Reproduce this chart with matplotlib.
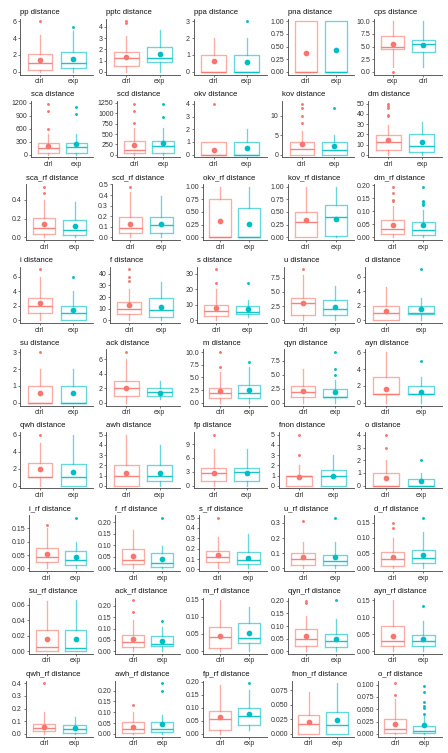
import matplotlib
matplotlib.use("Agg")
import matplotlib.pyplot as plt
from matplotlib.colors import to_rgba

plt.rcParams['font.family'] = ['Liberation Sans', 'DejaVu Sans']

CTRL_COLOR = '#F8766D'
EXP_COLOR = '#00BFC4'

titles = [
    'pp', 'pptc', 'ppa', 'pna', 'cps',
    'sca', 'scd', 'okv', 'kov', 'dm',
    'sca_rf', 'scd_rf', 'okv_rf', 'kov_rf', 'dm_rf',
    'i', 'f', 's', 'u', 'd',
    'su', 'ack', 'm', 'qyn', 'ayn',
    'qwh', 'awh', 'fp', 'fnon', 'o',
    'i_rf', 'f_rf', 's_rf', 'u_rf', 'd_rf',
    'su_rf', 'ack_rf', 'm_rf', 'qyn_rf', 'ayn_rf',
    'qwh_rf', 'awh_rf', 'fp_rf', 'fnon_rf', 'o_rf',
]

# x labels for the two boxes (cps has them swapped)
x_labels = [['ctrl', 'exp']] * 45
x_labels[4] = ['exp', 'ctrl']

y_ticks = [
    ['0', '2', '4', '6'], ['0', '1', '2', '3', '4'], ['0', '1', '2', '3'],
    ['0.00', '0.25', '0.50', '0.75', '1.00'], ['0.0', '2.5', '5.0', '7.5', '10.0'],
    ['0', '300', '600', '900', '1200'], ['0', '250', '500', '750', '1000', '1250'],
    ['0', '1', '2', '3', '4'], ['0', '5', '10'], ['0', '10', '20', '30', '40', '50'],
    ['0.0', '0.2', '0.4'], ['0.0', '0.1', '0.2', '0.3', '0.4', '0.5'],
    ['0.00', '0.25', '0.50', '0.75', '1.00'], ['0.00', '0.25', '0.50', '0.75', '1.00'],
    ['0.00', '0.05', '0.10', '0.15', '0.20'],
    ['0', '2', '4', '6'], ['0', '10', '20', '30', '40'], ['0', '10', '20', '30'],
    ['0.0', '2.5', '5.0', '7.5'], ['0', '2', '4', '6'],
    ['0', '1', '2', '3'], ['0', '2', '4', '6'], ['0.0', '2.5', '5.0', '7.5', '10.0'],
    ['0.0', '2.5', '5.0', '7.5'], ['0', '2', '4', '6'],
    ['0', '2', '4', '6'], ['0', '1', '2', '3', '4', '5'], ['0', '3', '6', '9'],
    ['0', '1', '2', '3', '4', '5'], ['0', '1', '2', '3', '4'],
    ['0.00', '0.05', '0.10', '0.15'], ['0.00', '0.05', '0.10', '0.15', '0.20'],
    ['0.0', '0.1', '0.2', '0.3', '0.4', '0.5'], ['0.0', '0.1', '0.2', '0.3'],
    ['0.00', '0.05', '0.10', '0.15'],
    ['0.00', '0.02', '0.04', '0.06'], ['0.00', '0.05', '0.10', '0.15', '0.20'],
    ['0.00', '0.05', '0.10', '0.15'], ['0.00', '0.05', '0.10', '0.15', '0.20'],
    ['0.00', '0.05', '0.10', '0.15'],
    ['0.0', '0.1', '0.2', '0.3', '0.4'], ['0.00', '0.05', '0.10', '0.15', '0.20'],
    ['0.00', '0.05', '0.10', '0.15', '0.20'], ['0.000', '0.025', '0.050', '0.075'],
    ['0.000', '0.025', '0.050', '0.075', '0.100'],
]

# (whislo, q1, median, q3, whishi, mean)
ctrl_box = [
    (0, 0.2, 1.0, 2.1, 4.3, 1.4), (0, 0.5, 1.25, 1.8, 3.2, 1.35), (0, 0, 0, 1, 2, 0.63),
    (0, 0, 0, 1, 1, 0.37), (1, 4.5, 5.0, 7.1, 10, 5.5),
    (0, 30, 150, 260, 480, 200), (0, 50, 120, 330, 650, 235), (0, 0, 0, 1, 1, 0.37),
    (0, 0, 1.5, 3.2, 6, 2.8), (0, 5, 12, 19, 29, 14),
    (0, 0.04, 0.105, 0.21, 0.40, 0.145), (0, 0.045, 0.09, 0.195, 0.43, 0.13),
    (0, 0, 0, 0.76, 1, 0.32), (0, 0, 0.3, 0.5, 1, 0.35), (0, 0.015, 0.033, 0.065, 0.12, 0.048),
    (0, 1, 2, 3, 6, 2.3), (0, 5.5, 10, 16, 27, 13.5), (0, 3, 6, 10, 20, 8),
    (0, 1, 3, 4, 8, 3.1), (0, 0, 1, 2, 4.5, 1.3),
    (0, 0, 0, 1, 2, 0.6), (0, 1, 2, 3, 6, 2.1), (0, 1, 2, 3, 6, 2.3),
    (0, 1, 2, 3, 6, 2.1), (0, 1, 1, 3, 6, 1.7),
    (0, 1, 1, 2.7, 5, 1.95), (0, 0, 1, 2, 5, 1.2), (0, 1, 2.7, 3.8, 8, 2.8),
    (0, 0, 1, 1, 2, 0.9), (0, 0, 0, 1, 2, 0.6),
    (0, 0.025, 0.041, 0.077, 0.15, 0.053), (0, 0.02, 0.038, 0.082, 0.165, 0.052),
    (0.01, 0.075, 0.125, 0.18, 0.31, 0.135), (0, 0.02, 0.065, 0.1, 0.175, 0.075),
    (0, 0.007, 0.03, 0.055, 0.1, 0.038),
    (0, 0, 0.006, 0.027, 0.065, 0.0155), (0, 0.02, 0.04, 0.07, 0.14, 0.052),
    (0, 0.01, 0.042, 0.07, 0.147, 0.045), (0, 0.02, 0.047, 0.087, 0.14, 0.059),
    (0, 0.015, 0.029, 0.075, 0.15, 0.045),
    (0, 0.02, 0.045, 0.075, 0.17, 0.055), (0, 0.005, 0.022, 0.053, 0.1, 0.033),
    (0, 0.015, 0.057, 0.088, 0.187, 0.066), (0, 0, 0.017, 0.032, 0.072, 0.02),
    (0, 0.002, 0.011, 0.031, 0.07, 0.02),
]

exp_box = [
    (0, 0.5, 1.0, 2.3, 4.8, 1.5), (0, 0.85, 1.25, 2.25, 3.75, 1.6), (0, 0, 0, 1, 2, 0.6),
    (0, 0, 0, 1, 1, 0.44), (1, 3.9, 5.4, 6.3, 10, 5.3),
    (0, 40, 180, 280, 490, 240), (0, 40, 200, 330, 650, 280), (0, 0, 0, 1, 2, 0.5),
    (0, 0, 1.2, 3.2, 5, 2.2), (0, 3, 8.5, 20, 32, 12),
    (0, 0.03, 0.08, 0.19, 0.38, 0.12), (0, 0.045, 0.12, 0.195, 0.39, 0.125),
    (0, 0, 0, 0.58, 1, 0.26), (0, 0.02, 0.4, 0.64, 1, 0.37), (0, 0.01, 0.027, 0.058, 0.105, 0.048),
    (0, 0, 1, 2, 4, 1.45), (0, 3, 9, 19, 33, 11.5), (2, 4, 5, 9, 13, 7),
    (0, 1, 2, 3.5, 6, 2.3), (0, 0.8, 1.05, 2, 3, 1.6),
    (0, 0, 0, 1, 2, 0.6), (0.5, 1, 1.5, 2, 3, 1.4), (0, 1, 2, 3.5, 7, 2.5),
    (0, 1, 1, 2.5, 4, 1.9), (0, 1, 1, 2, 3, 1.35),
    (0, 0, 1, 2.5, 6, 1.6), (0, 0.5, 1, 2, 4, 1.25), (0, 1, 3, 3.8, 8, 2.8),
    (0, 0, 1, 1.5, 3, 0.95), (0, 0, 0, 0.5, 1, 0.35),
    (0, 0.013, 0.032, 0.067, 0.097, 0.044), (0, 0.008, 0.025, 0.065, 0.097, 0.04),
    (0.01, 0.05, 0.09, 0.17, 0.34, 0.11), (0, 0.02, 0.05, 0.09, 0.175, 0.073),
    (0, 0.017, 0.033, 0.06, 0.12, 0.043),
    (0, 0, 0.004, 0.028, 0.066, 0.016), (0, 0.025, 0.03, 0.068, 0.105, 0.045),
    (0, 0.025, 0.039, 0.08, 0.128, 0.052), (0, 0.015, 0.04, 0.067, 0.128, 0.048),
    (0, 0.015, 0.029, 0.048, 0.088, 0.035),
    (0, 0.01, 0.04, 0.067, 0.135, 0.047), (0, 0.008, 0.023, 0.053, 0.088, 0.044),
    (0.015, 0.035, 0.07, 0.1, 0.17, 0.078), (0, 0, 0.016, 0.037, 0.087, 0.024),
    (0, 0.001, 0.006, 0.017, 0.038, 0.019),
]

ctrl_outliers = [
    [6], [4.3, 4.5], [], [], [0],
    [590, 1020, 1180], [770, 1050, 1230], [4], [8, 10, 12, 13], [38, 39, 46, 48, 50],
    [0.47, 0.54], [0.48], [], [], [0.14, 0.145, 0.17, 0.195],
    [7], [34, 37, 44], [24, 33], [9], [],
    [3], [7], [7, 10], [], [],
    [6], [], [11], [3, 5], [3, 4],
    [0.163], [], [0.5], [0.31], [0.132, 0.15],
    [], [0.172, 0.225], [], [0.19, 0.2], [],
    [0.4], [0.132], [], [], [0.079, 0.103],
]

exp_outliers = [
    [5.3], [], [3], [], [],
    [940, 1100], [920, 1220], [], [12], [],
    [], [], [], [], [0.125, 0.13, 0.135, 0.14, 0.195],
    [6], [], [24], [], [7],
    [], [], [8], [5, 6, 9], [5],
    [], [], [], [], [2],
    [0.19], [0.22], [], [0.335], [0.167],
    [], [0.135], [], [0.202], [0.133],
    [], [0.2, 0.235], [0.195], [], [0.041, 0.052, 0.057, 0.065, 0.085, 0.098],
]

# layout in pixels
W, H = 448, 753
label_start = [12.4, 98.5, 186, 271, 357]
col_right = [93, 180, 266.5, 354, 442]
row_step = 82.75
first_title_y = 12


def label_px(s):
    return sum(1.85 if ch == '.' else 3.7 for ch in s)


def draw_group(ax, pos, box, fliers, color):
    lo, q1, med, q3, hi, mean = box
    stats = [dict(whislo=lo, q1=q1, med=med, q3=q3, whishi=hi, mean=mean, fliers=fliers)]
    light = to_rgba(color, 0.6)
    ax.bxp(stats, positions=[pos], widths=0.75, showcaps=False, showmeans=True,
           showfliers=True, patch_artist=False,
           boxprops=dict(color=light, linewidth=0.95),
           whiskerprops=dict(color=light, linewidth=0.95),
           medianprops=dict(color=to_rgba(color, 0.9), linewidth=1.0),
           meanprops=dict(marker='o', markerfacecolor=color, markeredgecolor=color,
                          markersize=3.1),
           flierprops=dict(marker='o', markerfacecolor=color, markeredgecolor='none',
                           markersize=2.1))


fig = plt.figure(figsize=(W / 100, H / 100), dpi=100)

for k, name in enumerate(titles):
    r, c = divmod(k, 5)
    title_y = first_title_y + r * row_step
    top_px = title_y + 6.5
    bottom_px = title_y + 62.5
    lw = max(label_px(t) for t in y_ticks[k])
    left_px = label_start[c] + lw + 4
    right_px = col_right[c]
    ax = fig.add_axes([left_px / W, 1 - bottom_px / H,
                       (right_px - left_px) / W, (bottom_px - top_px) / H])

    draw_group(ax, 1, ctrl_box[k], ctrl_outliers[k], CTRL_COLOR)
    draw_group(ax, 2, exp_box[k], exp_outliers[k], EXP_COLOR)

    vals = list(ctrl_box[k]) + list(exp_box[k]) + ctrl_outliers[k] + exp_outliers[k]
    lo, hi = min(vals), max(vals)
    pad = 0.05 * (hi - lo)
    ax.set_ylim(lo - pad, hi + pad)
    ax.set_xlim(0.4, 2.6)

    ax.set_yticks([float(t) for t in y_ticks[k]])
    ax.set_yticklabels(y_ticks[k])
    ax.set_xticks([1, 2])
    ax.set_xticklabels(x_labels[k])
    ax.tick_params(axis='both', labelsize=5.0, length=1.7, width=0.5, pad=1,
                   colors='#444444', labelcolor='#333333')
    for side in ('top', 'right'):
        ax.spines[side].set_visible(False)
    for side in ('left', 'bottom'):
        ax.spines[side].set_color('#444444')
        ax.spines[side].set_linewidth(0.6)

    fig.text(left_px / W, 1 - title_y / H, name + ' distance', fontsize=5.6,
             ha='left', va='center', color='#111111')

fig.savefig('out.png', dpi=100, facecolor='white')
